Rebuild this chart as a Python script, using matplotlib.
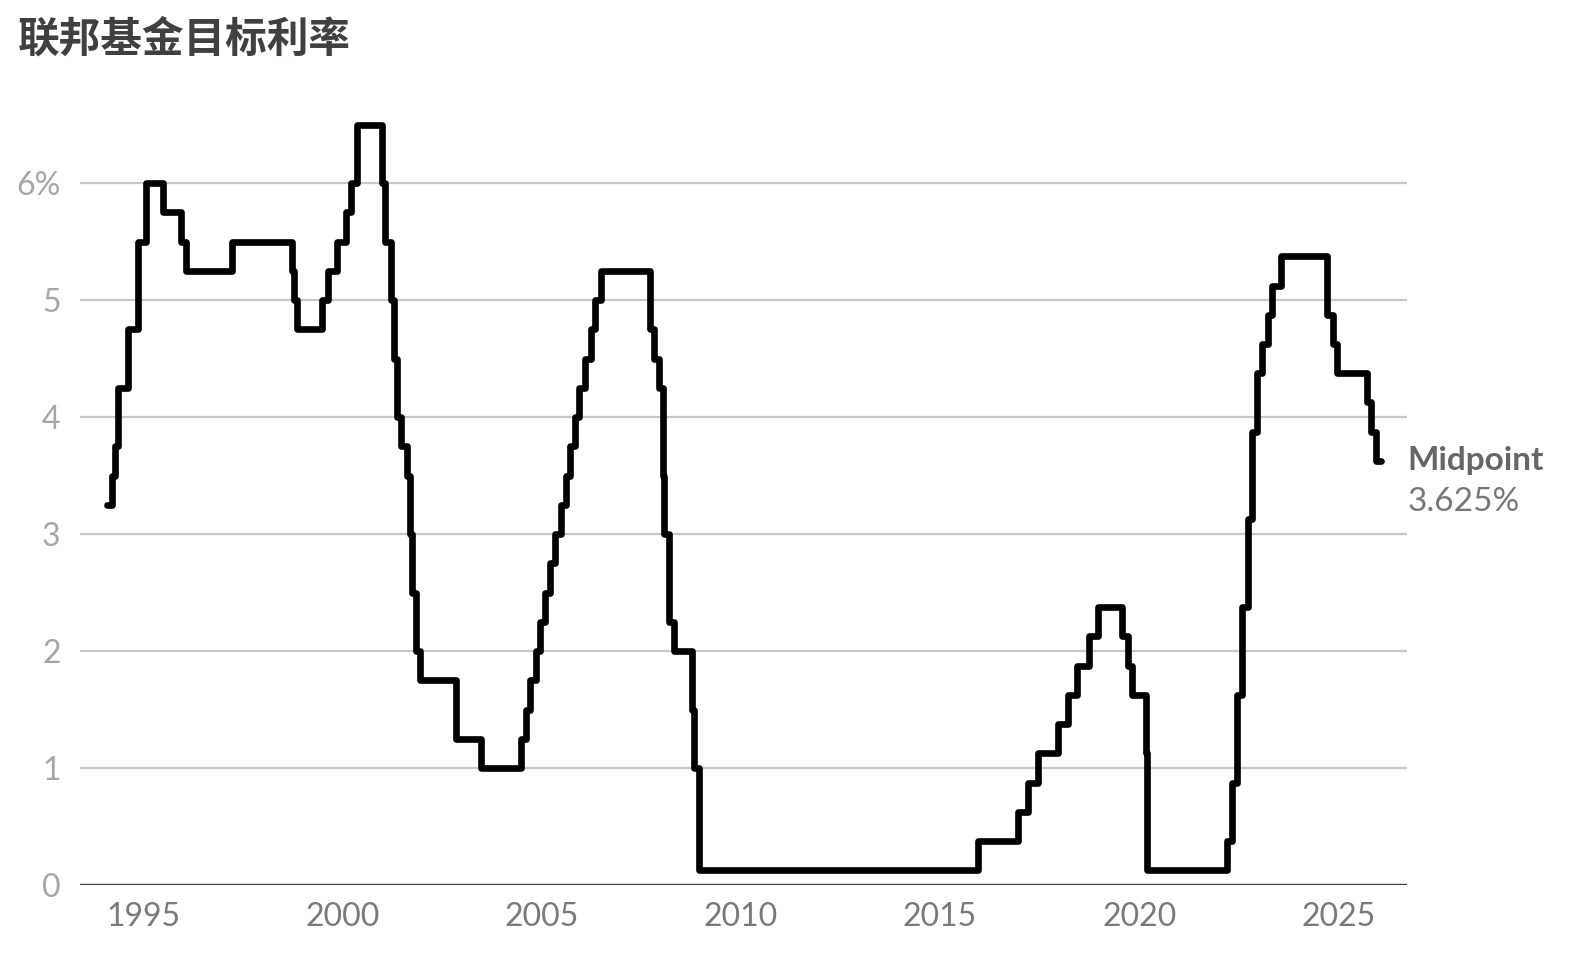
import datetime as dt
import matplotlib
matplotlib.use("Agg")
import matplotlib.pyplot as plt
import matplotlib.dates as mdates

# FOMC target changes (midpoint of range after 2008)
change_dates = [
    "1994-02-04", "1994-03-22", "1994-04-18", "1994-05-17", "1994-08-16", "1994-11-15",
    "1995-02-01", "1995-07-06", "1995-12-19", "1996-01-31", "1997-03-25",
    "1998-09-29", "1998-10-15", "1998-11-17", "1999-06-30", "1999-08-24", "1999-11-16",
    "2000-02-02", "2000-03-21", "2000-05-16",
    "2001-01-03", "2001-01-31", "2001-03-20", "2001-04-18", "2001-05-15", "2001-06-27",
    "2001-08-21", "2001-09-17", "2001-10-02", "2001-11-06", "2001-12-11",
    "2002-11-06", "2003-06-25",
    "2004-06-30", "2004-08-10", "2004-09-21", "2004-11-10", "2004-12-14",
    "2005-02-02", "2005-03-22", "2005-05-03", "2005-06-30", "2005-08-09", "2005-09-20",
    "2005-11-01", "2005-12-13", "2006-01-31", "2006-03-28", "2006-05-10", "2006-06-29",
    "2007-09-18", "2007-10-31", "2007-12-11",
    "2008-01-22", "2008-01-30", "2008-03-18", "2008-04-30", "2008-10-08", "2008-10-29",
    "2008-12-16",
    "2015-12-16", "2016-12-14", "2017-03-15", "2017-06-14", "2017-12-13",
    "2018-03-21", "2018-06-13", "2018-09-26", "2018-12-19",
    "2019-07-31", "2019-09-18", "2019-10-30",
    "2020-03-03", "2020-03-15",
    "2022-03-16", "2022-05-04", "2022-06-15", "2022-07-27", "2022-09-21", "2022-11-02",
    "2022-12-14", "2023-02-01", "2023-03-22", "2023-05-03", "2023-07-26",
    "2024-09-18", "2024-11-07", "2024-12-18",
    "2025-09-17", "2025-10-29", "2025-12-10",
    "2026-01-28",
]
rates = [
    3.25, 3.5, 3.75, 4.25, 4.75, 5.5,
    6.0, 5.75, 5.5, 5.25, 5.5,
    5.25, 5.0, 4.75, 5.0, 5.25, 5.5,
    5.75, 6.0, 6.5,
    6.0, 5.5, 5.0, 4.5, 4.0, 3.75,
    3.5, 3.0, 2.5, 2.0, 1.75,
    1.25, 1.0,
    1.25, 1.5, 1.75, 2.0, 2.25,
    2.5, 2.75, 3.0, 3.25, 3.5, 3.75,
    4.0, 4.25, 4.5, 4.75, 5.0, 5.25,
    4.75, 4.5, 4.25,
    3.5, 3.0, 2.25, 2.0, 1.5, 1.0,
    0.125,
    0.375, 0.625, 0.875, 1.125, 1.375,
    1.625, 1.875, 2.125, 2.375,
    2.125, 1.875, 1.625,
    1.125, 0.125,
    0.375, 0.875, 1.625, 2.375, 3.125, 3.875,
    4.375, 4.625, 4.875, 5.125, 5.375,
    4.875, 4.625, 4.375,
    4.125, 3.875, 3.625,
    3.625,
]
y_ticks = [0, 1, 2, 3, 4, 5, 6]
y_labels = ["0", "1", "2", "3", "4", "5", "6%"]
x_years = [1995, 2000, 2005, 2010, 2015, 2020, 2025]

dates = [dt.datetime.strptime(d, "%Y-%m-%d") for d in change_dates]

plt.rcParams["font.family"] = ["Lato", "DejaVu Sans"]

fig = plt.figure(figsize=(15.92, 9.71), dpi=100)
ax = fig.add_axes([80 / 1592, 86 / 971, (1407 - 80) / 1592, 772 / 971])

ax.step(dates, rates, where="post", color="black", lw=4.8,
        solid_joinstyle="round", solid_capstyle="round", zorder=3)

ax.set_ylim(0, 6.6)
ax.set_xlim(dt.datetime(1993, 6, 3), dt.datetime(2026, 9, 20))

ax.set_yticks(y_ticks)
ax.set_yticklabels(y_labels)
ax.set_xticks([dt.datetime(y, 1, 1) for y in x_years])
ax.xaxis.set_major_formatter(mdates.DateFormatter("%Y"))

for t in y_ticks[1:]:
    ax.axhline(t, color="#c8c8c8", lw=1.6, zorder=1)
ax.axhline(0, color="#404040", lw=2.4, zorder=2)

for s in ax.spines.values():
    s.set_visible(False)
ax.tick_params(axis="both", length=0)
ax.tick_params(axis="y", labelsize=23, labelcolor="#a6a6a6", pad=14)
ax.tick_params(axis="x", labelsize=23, labelcolor="#7a7a7a", pad=12)

fig.text(18 / 1592, 1 - 40 / 971, "联邦基金目标利率", fontsize=30, fontweight="bold",
         color="#404040", va="center", ha="left",
         family=["Noto Sans CJK SC", "DejaVu Sans"])

ax.annotate("Midpoint", xy=(dates[-1], rates[-1]), xytext=(26, 0),
            textcoords="offset pixels", fontsize=24, fontweight="bold",
            color="#666666", va="center", ha="left", annotation_clip=False)
ax.annotate("3.625%", xy=(dates[-1], rates[-1]), xytext=(26, -41),
            textcoords="offset pixels", fontsize=24,
            color="#777777", va="center", ha="left", annotation_clip=False)

fig.savefig("out.png", dpi=100)
